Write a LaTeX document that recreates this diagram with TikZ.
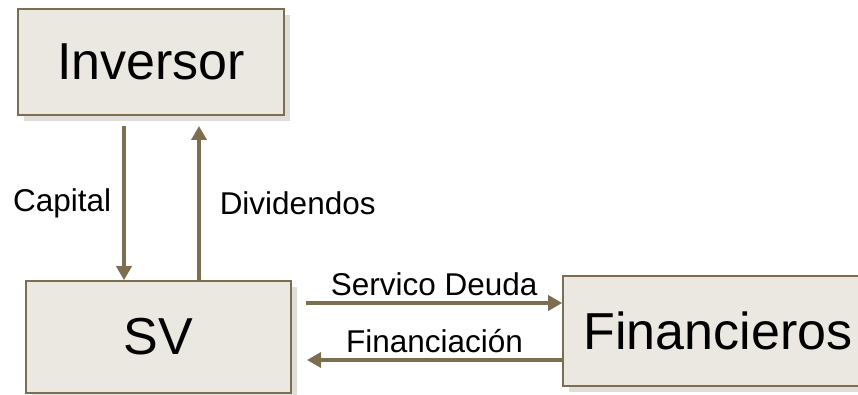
\documentclass[tikz,border=0pt]{standalone}
\usepackage{fontspec}
\setmainfont{Liberation Sans}
\usetikzlibrary{arrows.meta,shadows}
\definecolor{boxline}{RGB}{126,110,80}
\definecolor{boxfill}{RGB}{235,231,225}
\definecolor{boxshade}{RGB}{224,222,218}
\tikzset{
  party/.style={draw=boxline,line width=1.6pt,fill=boxfill,
    drop shadow={shadow xshift=6pt,shadow yshift=-6pt,fill=boxshade,opacity=1},
    font=\fontsize{52}{60}\selectfont,inner sep=0pt},
  flow/.style={draw=boxline,line width=3.5pt,-{Triangle[length=14pt,width=15pt]}},
  flowlabel/.style={font=\fontsize{31.5}{38}\selectfont}
}
\begin{document}
\begin{tikzpicture}[x=1pt,y=1pt]
\clip (0,0) rectangle (858,395);
\node[party,minimum width=266pt,minimum height=106pt] (inv) at (151,333) {Inversor};
\node[party,minimum width=265pt,minimum height=112pt] (sv) at (158.5,58) {SV};
\node[party,minimum width=310pt,minimum height=110pt] (fin) at (718,64) {Financieros};
\coordinate (capTop) at (124,269);
\coordinate (divTop) at (199,269);
\coordinate (debtStart) at (306,92);
\coordinate (loanEnd) at (307,35);
\draw[flow] (capTop) -- (capTop |- sv.north)
  node[flowlabel,midway,left,inner sep=11pt] (caplbl) {Capital};
\draw[flow] (divTop |- sv.north) -- (divTop)
  node[flowlabel,midway,right,inner sep=19pt] (divlbl) {Dividendos};
\draw[flow] (debtStart) -- (debtStart -| fin.west)
  node[flowlabel,midway,above,inner sep=5pt] (debtlbl) {Servico Deuda};
\draw[flow] (loanEnd -| fin.west) -- (loanEnd)
  node[flowlabel,midway,above,inner sep=5pt] (loanlbl) {Financiación};
\end{tikzpicture}
\end{document}
